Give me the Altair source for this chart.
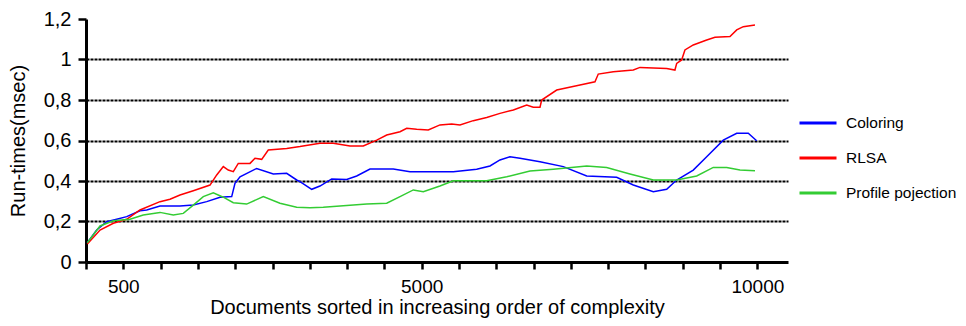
import altair as alt
import pandas as pd

# ---- data ----
coloring_x = [20, 159, 308, 457, 606, 804, 904, 1102, 1400, 1598, 1798, 1996, 2170, 2219, 2294,
              2542, 2790, 2989, 3138, 3187, 3362, 3485, 3659, 3883, 4032, 4230, 4577, 4826, 5471,
              5819, 6017, 6166, 6315, 6464, 6762, 7109, 7458, 7904, 8152, 8450, 8649, 8798, 9045,
              9245, 9492, 9692, 9864, 9989]
coloring_y = [0.095, 0.158, 0.199, 0.211, 0.224, 0.253, 0.257, 0.277, 0.277, 0.281, 0.298, 0.320,
              0.323, 0.389, 0.421, 0.462, 0.435, 0.438, 0.405, 0.397, 0.359, 0.375, 0.410, 0.408,
              0.425, 0.459, 0.459, 0.446, 0.446, 0.458, 0.474, 0.504, 0.520, 0.512, 0.495, 0.471,
              0.425, 0.418, 0.380, 0.347, 0.359, 0.405, 0.454, 0.520, 0.602, 0.636, 0.636, 0.599]

rlsa_x = [20, 209, 407, 606, 804, 1102, 1251, 1400, 1598, 1847, 1947, 2045, 2119, 2194, 2268,
          2443, 2517, 2617, 2715, 2989, 3187, 3485, 3683, 3932, 4130, 4330, 4479, 4677, 4777,
          4925, 5098, 5272, 5447, 5570, 5768, 5968, 6166, 6365, 6564, 6662, 6762, 6787, 7011,
          7358, 7581, 7630, 7854, 8152, 8251, 8649, 8772, 8798, 8872, 8921, 9045, 9245, 9368,
          9592, 9692, 9790, 9964]
rlsa_y = [0.089, 0.158, 0.191, 0.211, 0.257, 0.298, 0.310, 0.331, 0.352, 0.380, 0.430, 0.471,
          0.454, 0.446, 0.487, 0.487, 0.512, 0.507, 0.553, 0.561, 0.570, 0.586, 0.586, 0.573,
          0.573, 0.602, 0.627, 0.643, 0.660, 0.655, 0.652, 0.677, 0.681, 0.677, 0.698, 0.714,
          0.734, 0.751, 0.775, 0.764, 0.764, 0.800, 0.849, 0.874, 0.890, 0.928, 0.940, 0.948,
          0.961, 0.956, 0.948, 0.981, 0.998, 1.047, 1.072, 1.096, 1.110, 1.113, 1.146, 1.162,
          1.170]

profile_x = [20, 209, 407, 655, 853, 1102, 1300, 1449, 1598, 1747, 1896, 2045, 2194, 2393, 2641,
             2889, 3138, 3336, 3534, 4181, 4479, 4677, 4875, 5024, 5272, 5471, 5968, 6266, 6613,
             6960, 7458, 7755, 8102, 8450, 8798, 9096, 9343, 9543, 9741, 9964]
profile_y = [0.095, 0.178, 0.204, 0.211, 0.232, 0.245, 0.232, 0.240, 0.281, 0.323, 0.342, 0.320,
             0.293, 0.286, 0.323, 0.290, 0.270, 0.268, 0.270, 0.286, 0.290, 0.323, 0.356, 0.347,
             0.375, 0.401, 0.401, 0.421, 0.449, 0.458, 0.474, 0.467, 0.435, 0.405, 0.405, 0.425,
             0.467, 0.467, 0.454, 0.451]

series_names = ["Coloring", "RLSA", "Profile pojection"]
series_colors = ["#0000ff", "#ff0000", "#33cc33"]

x_ticks = [0, 556, 1111, 1667, 2222, 2778, 3333, 3889, 4444, 5000, 5556, 6111, 6667, 7222,
           7778, 8333, 8889, 9444, 10000]
y_ticks = [0, 0.2, 0.4, 0.6, 0.8, 1.0, 1.2]

rows = []
for name, xs, ys in [(series_names[0], coloring_x, coloring_y),
                     (series_names[1], rlsa_x, rlsa_y),
                     (series_names[2], profile_x, profile_y)]:
    for xv, yv in zip(xs, ys):
        rows.append({"doc": xv, "time": yv, "method": name})
df = pd.DataFrame(rows)

FONT = "Liberation Sans"

chart = alt.Chart(df).mark_line(strokeWidth=1.5).encode(
    x=alt.X("doc:Q",
            scale=alt.Scale(domain=[0, 10456], nice=False, zero=False),
            axis=alt.Axis(values=x_ticks,
                          labelExpr="datum.value == 556 ? '500' : datum.value == 5000 ? '5000' : datum.value == 10000 ? '10000' : ''",
                          title="Documents sorted in increasing order of complexity",
                          grid=False, tickSize=7, tickWidth=2.5, tickColor="black",
                          domainWidth=3, domainColor="black",
                          labelFontSize=19, labelPadding=8, labelColor="black",
                          titleFontSize=20, titleFontWeight="normal", titleColor="black",
                          titleBaseline="alphabetic", titleY=51, labelFlush=False)),
    y=alt.Y("time:Q",
            scale=alt.Scale(domain=[0, 1.2], nice=False),
            axis=alt.Axis(values=y_ticks,
                          labelExpr="replace(format(datum.value, '~g'), '.', ',')",
                          title="Run-times(msec)",
                          grid=True, gridColor="black", gridWidth=2, gridDash=[3, 1],
                          gridOpacity={"condition": {"test": "datum.value == 0 || datum.value > 1.1", "value": 0}, "value": 1},
                          tickSize=8, tickWidth=2.5, tickColor="black",
                          domainWidth=3, domainColor="black",
                          labelFontSize=20, labelPadding=7, labelColor="black",
                          titleFontSize=20, titleFontWeight="normal", titleColor="black",
                          titlePadding=15)),
    color=alt.Color("method:N",
                    scale=alt.Scale(domain=series_names, range=series_colors),
                    legend=alt.Legend(title=None, orient="none", legendX=712, legendY=84,
                                      symbolType="stroke", symbolSize=1369, symbolStrokeWidth=3,
                                      labelFontSize=15.5, labelFont=FONT, labelColor="black",
                                      labelOffset=8, rowPadding=6, padding=0)),
    order=alt.Order("doc:Q"),
).properties(
    width=702, height=243,
    autosize=alt.AutoSizeParams(type="none"),
    padding={"left": 78, "top": 11, "right": 170, "bottom": 56},
).configure(
    font=FONT,
).configure_view(
    stroke=None
).configure_axis(
    labelFont=FONT, titleFont=FONT
)

chart.save("out.html", embed_options={"renderer": "svg", "actions": False})
